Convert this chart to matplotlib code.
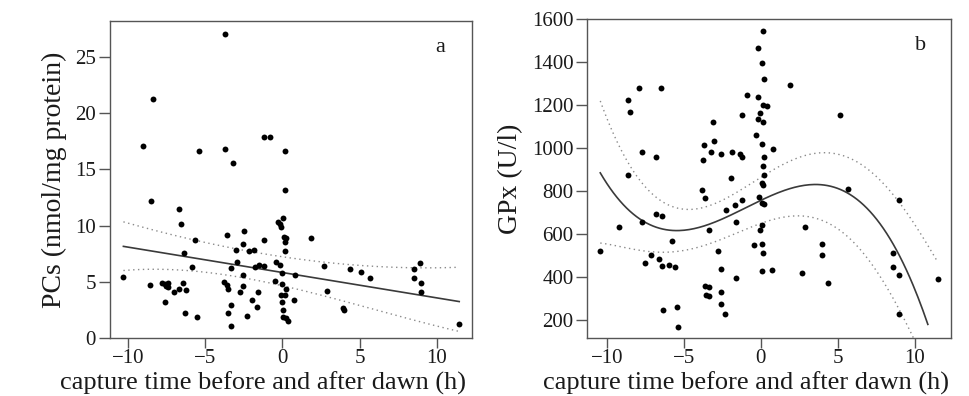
import numpy as np
import matplotlib.pyplot as plt

# panel a: PCs vs capture time
pcs_time = [-8.38, -3.70, -9.03, -5.39, -3.70, -3.20, -1.17, -0.84, 0.16, 0.16,
            -8.55, -6.69, -6.56, 0.05, -0.32, -0.15, -0.10, 0.09, 0.22, 0.16,
            0.16, -2.51, -3.61, -1.21, -2.57, -5.69, -3.03, -2.18, -1.86, -6.38,
            -2.94, -5.88, -3.33, -1.77, -1.51, -1.19, -0.43, -0.15, -10.32, -2.57,
            -0.49, -8.57, -7.83, -7.62, -7.40, -7.55, -7.44, -7.05, -6.71, -6.43,
            -6.25, -3.79, -3.61, -3.55, -2.57, -2.75, -1.60, 0.00, 0.24, -0.10,
            0.16, 0.00, -7.64, -3.31, -1.97, -1.64, 0.05, 0.06, 0.22, 0.37,
            -6.34, -5.54, -3.53, -2.31, -3.33, 1.88, -0.06, 0.82, 0.72, 2.69,
            4.40, 5.11, 5.67, 2.90, 3.96, 4.00, 8.90, 8.55, 8.55, 8.98,
            8.96, 11.47]
pcs_value = [21.3, 27.0, 17.1, 16.6, 16.8, 15.6, 17.9, 17.9, 16.6, 13.2,
             12.2, 11.5, 10.1, 10.7, 10.3, 10.1, 9.9, 9.0, 8.9, 8.5,
             7.7, 9.5, 9.2, 8.7, 8.4, 8.7, 7.8, 7.7, 7.8, 7.6,
             6.8, 6.3, 6.2, 6.3, 6.5, 6.4, 6.8, 6.5, 5.4, 5.6,
             5.1, 4.7, 4.9, 4.8, 4.9, 4.6, 4.5, 4.1, 4.4, 4.9,
             4.3, 5.0, 4.7, 4.4, 4.6, 4.1, 4.1, 4.8, 4.4, 3.8,
             3.8, 3.2, 3.2, 2.9, 3.4, 2.8, 2.5, 1.9, 1.8, 1.5,
             2.2, 1.9, 2.2, 2.0, 1.1, 8.9, 5.8, 5.6, 3.4, 6.4,
             6.1, 5.9, 5.3, 4.2, 2.65, 2.5, 6.7, 6.1, 5.3, 4.9,
             4.1, 1.2]

# fitted line and 95% band of panel a
pcs_fit_x = [-10.32, 11.47]
pcs_fit_y = [8.15, 3.24]
pcs_band_x = [-10.32, -5.78, -2.53, 0.0, 4.4, 8.9, 11.47]
pcs_upper = [10.3, 8.83, 7.8, 7.12, 6.53, 6.33, 6.24]
pcs_lower = [6.03, 5.88, 5.3, 4.85, 3.0, 1.47, 0.59]

# panel b: GPx vs capture time
gpx_time = [0.13, -0.16, 0.06, 0.21, -7.89, -6.50, -8.65, -8.48, -0.89, -0.16,
            0.17, 0.39, -1.20, -0.02, -0.16, 0.13, -3.10, -0.33, -3.02, -3.71,
            -3.25, -2.56, -1.85, -1.33, -1.20, 0.06, 0.21, -7.74, -6.81, -3.77,
            0.13, 0.24, -8.65, -1.93, 0.08, 0.13, -3.84, -3.64, -0.09, 0.08,
            0.20, -1.24, -1.67, -2.24, -6.81, -6.44, -7.74, -1.61, -9.19, -3.36,
            0.06, -0.05, -5.75, -10.43, -2.80, -0.46, 0.06, 0.15, -7.13, -6.63,
            -7.50, -6.44, -5.96, -5.59, -2.60, 0.11, 0.72, -1.61, -3.62, -3.36,
            -3.56, -3.38, -2.60, -2.60, -2.34, -6.33, -5.44, -5.36, 1.90, 5.16,
            0.82, 5.70, 9.01, 2.88, 3.97, 3.97, 8.58, 8.58, 9.01, 11.55,
            2.69, 4.40, 8.97]
gpx_value = [1545, 1466, 1398, 1320, 1278, 1278, 1222, 1170, 1247, 1240,
             1199, 1196, 1154, 1163, 1134, 1123, 1123, 1059, 1033, 1013,
             980, 975, 981, 975, 957, 1017, 961, 981, 961, 944,
             915, 873, 877, 862, 839, 828, 804, 766, 773, 745,
             738, 758, 736, 714, 696, 683, 658, 658, 632, 621,
             644, 621, 570, 523, 523, 548, 552, 512, 501, 486,
             464, 453, 458, 448, 439, 428, 434, 397, 360, 352,
             319, 313, 333, 276, 229, 245, 262, 167, 1296, 1154,
             997, 809, 761, 632, 554, 501, 512, 449, 408, 393,
             417, 371, 229]

# cubic fit and 95% band of panel b
gpx_fit_x = [-10.43, -7.72, -5.44, -2.62, -1.35, -0.03, 0.82, 3.53, 5.16, 6.89, 8.41, 9.71, 10.86]
gpx_fit_y = [885, 660, 624, 668, 711, 753, 776, 827, 815, 730, 574, 388, 183]
gpx_up_x = [-10.43, -8.69, -6.96, -5.23, -2.19, -1.35, 0.2, 0.82, 3.6, 6.89, 9.06, 11.44]
gpx_upper = [1224, 932, 776, 734, 769, 807, 854, 901, 983, 916, 730, 481]
gpx_lo_x = [-10.43, -8.04, -5.23, -2.19, -1.35, 0.2, 2.23, 5.16, 7.32, 8.84, 9.82, 11.44]
gpx_lower = [556, 536, 512, 574, 621, 668, 683, 606, 450, 279, 131, -120]


def smooth(x, y, degree, num=200):
    # smooth curve through the values
    coef = np.polyfit(x, y, degree)
    xs = np.linspace(min(x), max(x), num)
    return xs, np.polyval(coef, xs)


plt.rcParams['font.family'] = ['Liberation Serif', 'DejaVu Serif']

fig = plt.figure(figsize=(9.7, 3.96), dpi=100)
ax_a = fig.add_axes([0.1134, 0.1465, 0.3732, 0.8005])
ax_b = fig.add_axes([0.6055, 0.1460, 0.3750, 0.8056])

spine_col = "#555555"
text_col = "#1a1a1a"
dot_style = dict(linewidth=1.0, color="#8a8a8a", ls=(0, (1, 2.5)))
for ax in (ax_a, ax_b):
    for s in ax.spines.values():
        s.set_color(spine_col)
        s.set_linewidth(1.0)
    ax.tick_params(direction="out", length=7, width=1.0, color=spine_col,
                   labelsize=15, labelcolor=text_col, pad=1)
    ax.tick_params(axis="y", length=8, pad=2)
    ax.set_xticks([-10, -5, 0, 5, 10])
    ax.set_xticklabels(["\u221210", "\u22125", "0", "5", "10"])

# panel a
ax_a.scatter(pcs_time, pcs_value, s=18, color="black", zorder=3, linewidths=0)
ax_a.plot(pcs_fit_x, pcs_fit_y, color="#3a3a3a", lw=1.2)
ax_a.plot(*smooth(pcs_band_x, pcs_upper, 3), **dot_style)
ax_a.plot(*smooth(pcs_band_x, pcs_lower, 3), **dot_style)
ax_a.set_xlim(-11.19, 12.3)
ax_a.set_yticks([0, 5, 10, 15, 20, 25])
ax_a.set_ylim(0, 28.2)
ax_a.set_ylabel("PCs (nmol/mg protein)", fontsize=20, labelpad=6, color=text_col)
ax_a.text(0.912, 0.915, "a", transform=ax_a.transAxes, fontsize=16,
          ha="center", va="center", color=text_col)

# panel b
ax_b.scatter(gpx_time, gpx_value, s=18, color="black", zorder=3, linewidths=0)
ax_b.plot(*smooth(gpx_fit_x, gpx_fit_y, 3), color="#3a3a3a", lw=1.2)
ax_b.plot(*smooth(gpx_up_x, gpx_upper, 5), **dot_style)
ax_b.plot(*smooth(gpx_lo_x, gpx_lower, 5), **dot_style)
ax_b.set_xlim(-11.27, 12.37)
ax_b.set_ylim(116, 1600)
ax_b.set_yticks(np.arange(200, 1601, 200))
ax_b.set_ylabel("GPx (U/l)", fontsize=20, labelpad=6, color=text_col)
ax_b.text(0.915, 0.919, "b", transform=ax_b.transAxes, fontsize=16,
          ha="center", va="center", color=text_col)

fig.text(263 / 970, 1 - 390 / 396, "capture time before and after dawn (h)",
         fontsize=19, ha="center", va="baseline", color=text_col)
fig.text(746 / 970, 1 - 390 / 396, "capture time before and after dawn (h)",
         fontsize=19, ha="center", va="baseline", color=text_col)

fig.savefig("out.png", dpi=100)
